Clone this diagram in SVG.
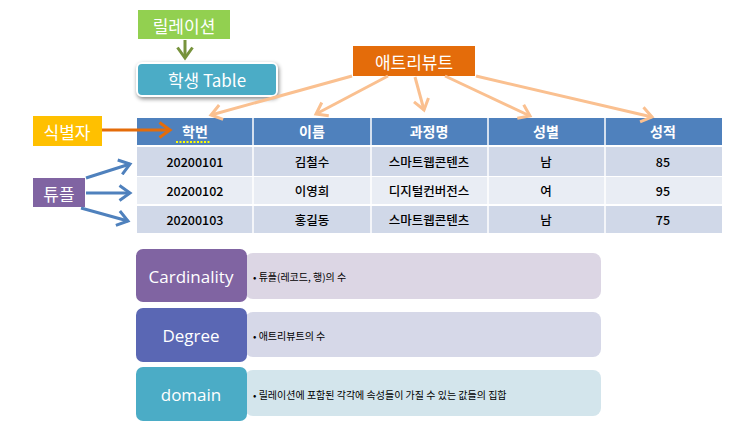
<svg xmlns="http://www.w3.org/2000/svg" width="749" height="436" viewBox="0 0 749 436">
<style>
text{font-family:"Noto Sans CJK KR","Noto Sans",sans-serif}
.w{fill:#fff;font-size:17px;text-anchor:middle;dominant-baseline:central}
.h{fill:#fff;font-size:14px;font-weight:bold;text-anchor:middle;dominant-baseline:central}
.c{fill:#000;font-size:12.5px;font-weight:500;text-anchor:middle;dominant-baseline:central}
.b{fill:#000;font-size:10px;dominant-baseline:central}
.pe{stroke:#fac090;stroke-width:3;fill:none;marker-end:url(#mp)}
.bl{stroke:#4f81bd;stroke-width:3;fill:none;marker-end:url(#mb)}
</style>
<defs>
<marker id="mp" markerWidth="6" markerHeight="6" refX="4" refY="3" orient="auto" markerUnits="strokeWidth"><path d="M0.5,0.5 L4,3 L0.5,5.5" fill="none" stroke="#fac090" stroke-width="1"/></marker>
<marker id="mb" markerWidth="6" markerHeight="6" refX="4" refY="3" orient="auto" markerUnits="strokeWidth"><path d="M0.5,0.5 L4,3 L0.5,5.5" fill="none" stroke="#4f81bd" stroke-width="1"/></marker>
<marker id="mo" markerWidth="6" markerHeight="6" refX="4" refY="3" orient="auto" markerUnits="strokeWidth"><path d="M0.5,0.5 L4,3 L0.5,5.5" fill="none" stroke="#e46c0a" stroke-width="1"/></marker>
<marker id="mg" markerWidth="6" markerHeight="6" refX="4" refY="3" orient="auto" markerUnits="strokeWidth"><path d="M0.5,0.5 L4,3 L0.5,5.5" fill="none" stroke="#77933c" stroke-width="1"/></marker>
</defs>
<g id="relation"><rect x="138" y="10" width="92" height="29" fill="#92d050"/><text class="w" x="184" y="25">릴레이션</text></g>
<g id="studentTable"><rect x="137" y="63" width="140" height="33" rx="5" fill="#4bacc6" stroke="#fff" stroke-width="2" style="filter:drop-shadow(1px 2px 2px #888)"/><text class="w" x="207" y="79">학생 Table</text></g>
<g id="attribute"><rect x="353" y="46" width="122" height="30" fill="#e46c0a"/><text class="w" x="414" y="61">애트리뷰트</text></g>
<g id="identifier"><rect x="33" y="116" width="69" height="30" fill="#ffc000"/><text class="w" x="67" y="131">식별자</text></g>
<g id="tuple"><rect x="33" y="178" width="52" height="29" fill="#8064a2"/><text class="w" x="59" y="193">튜플</text></g>
<g id="table">
<rect x="137" y="118" width="585" height="27" fill="#4f81bd"/>
<rect x="137" y="147" width="585" height="29" fill="#d0d8e8"/>
<rect x="137" y="177" width="585" height="27" fill="#e9edf4"/>
<rect x="137" y="206" width="585" height="27" fill="#d0d8e8"/>
<g stroke="#fff" stroke-width="1.5"><line x1="253" y1="118" x2="253" y2="233"/><line x1="371" y1="118" x2="371" y2="233"/><line x1="488" y1="118" x2="488" y2="233"/><line x1="605" y1="118" x2="605" y2="233"/></g>
<text class="h" x="195" y="131">학번</text><text class="h" x="312" y="131">이름</text><text class="h" x="429" y="131">과정명</text><text class="h" x="546" y="131">성별</text><text class="h" x="663" y="131">성적</text>
<line x1="176" y1="142" x2="210" y2="142" stroke="#ffff00" stroke-width="2" stroke-dasharray="2,1.5"/>
<text class="c" x="195" y="161">20200101</text><text class="c" x="312" y="161">김철수</text><text class="c" x="429" y="161">스마트웹콘텐츠</text><text class="c" x="546" y="161">남</text><text class="c" x="663" y="161">85</text>
<text class="c" x="195" y="190">20200102</text><text class="c" x="312" y="190">이영희</text><text class="c" x="429" y="190">디지털컨버전스</text><text class="c" x="546" y="190">여</text><text class="c" x="663" y="190">95</text>
<text class="c" x="195" y="219">20200103</text><text class="c" x="312" y="219">홍길동</text><text class="c" x="429" y="219">스마트웹콘텐츠</text><text class="c" x="546" y="219">남</text><text class="c" x="663" y="219">75</text>
</g>
<g id="connectors">
<line x1="185" y1="40" x2="185" y2="58" stroke="#77933c" stroke-width="3" marker-end="url(#mg)"/>
<line class="pe" x1="352" y1="76" x2="211" y2="115"/>
<line class="pe" x1="388" y1="76" x2="316" y2="114"/>
<line class="pe" x1="415" y1="77" x2="424" y2="110"/>
<line class="pe" x1="445" y1="76" x2="530" y2="116"/>
<line class="pe" x1="476" y1="76" x2="652" y2="117"/>
<line x1="102" y1="130" x2="170" y2="130" stroke="#e46c0a" stroke-width="3" marker-end="url(#mo)"/>
<line class="bl" x1="86" y1="178" x2="130" y2="164"/>
<line class="bl" x1="86" y1="193" x2="130" y2="193"/>
<line class="bl" x1="81" y1="208" x2="128" y2="221"/>
</g>
<g id="cardinality"><rect x="245" y="253" width="356" height="46" rx="8" fill="#dcd6e4"/><rect x="136" y="249" width="111" height="53" rx="7" fill="#8064a2"/><text class="w" x="191" y="276" style="font-family:'Open Sans',sans-serif;font-size:17px">Cardinality</text><text class="b" x="253" y="276">• 튜플(레코드, 행)의 수</text></g>
<g id="degree"><rect x="245" y="312" width="356" height="45" rx="8" fill="#d6d8e8"/><rect x="136" y="308" width="111" height="54" rx="7" fill="#5a67b4"/><text class="w" x="191" y="335" style="font-family:'Open Sans',sans-serif;font-size:17px">Degree</text><text class="b" x="253" y="335">• 애트리뷰트의 수</text></g>
<g id="domain"><rect x="245" y="370" width="356" height="46" rx="8" fill="#d3e5ec"/><rect x="136" y="367" width="111" height="54" rx="7" fill="#4bacc6"/><text class="w" x="191" y="394" style="font-family:'Open Sans',sans-serif;font-size:17px">domain</text><text class="b" x="253" y="394">• 릴레이션에 포함된 각각에 속성들이 가질 수 있는 값들의 집합</text></g>
</svg>
